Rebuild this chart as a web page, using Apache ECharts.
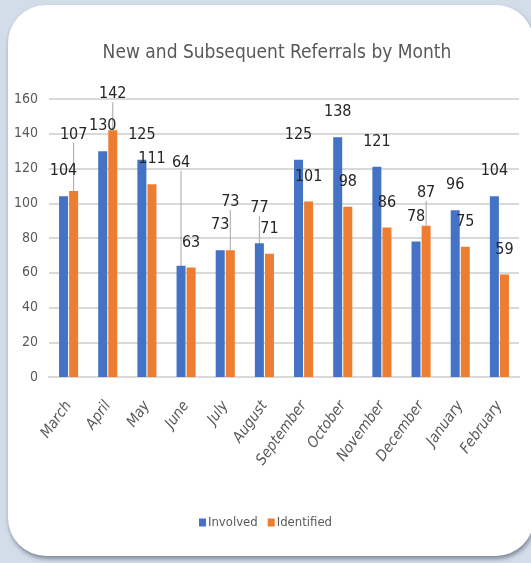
<!DOCTYPE html>
<html>
<head>
<meta charset="utf-8">
<script src="https://cdn.jsdelivr.net/npm/echarts@6/dist/echarts.min.js"></script>
<style>
  html, body { margin: 0; padding: 0; width: 531px; height: 563px; overflow: hidden; background: #d3dde9; }
  #panel {
    position: absolute; left: 8px; top: 5px; width: 526px; height: 551px;
    background: #ffffff; border-radius: 38px;
    box-shadow: 1px 3px 4px rgba(60, 70, 90, 0.55);
  }
  #chart { position: absolute; left: 0; top: 0; width: 531px; height: 563px; }
</style>
</head>
<body>
<div id="panel"></div>
<div id="chart"></div>
<script>
var months = ['March', 'April', 'May', 'June', 'July', 'August', 'September',
              'October', 'November', 'December', 'January', 'February'];
var involved   = [104, 130, 125, 64, 73, 77, 125, 138, 121, 78, 96, 104];
var identified = [107, 142, 111, 63, 73, 71, 101, 98, 86, 87, 75, 59];
var yTicks = [0, 20, 40, 60, 80, 100, 120, 140, 160];

// labels that Excel pushed up with a leader line: "series-dataIndex" -> extra dy
var labelNudge = {
    '0-3': -78, '0-5': -10,
    '1-0': -31, '1-1': -11, '1-4': -23, '1-9': -8
};

var font = "'Liberation Sans Narrow', 'DejaVu Sans Condensed', sans-serif";

var chart = echarts.init(document.getElementById('chart'));

function barSeries(idx, name, values, color) {
    var items = values.map(function (v, i) {
        if (labelNudge[idx + '-' + i]) {
            return { value: v, labelLine: { show: true } };
        }
        return v;
    });
    return {
        name: name,
        type: 'bar',
        data: items,
        barWidth: 9,
        barGap: '12%',
        itemStyle: { color: color },
        label: {
            show: true,
            position: 'top',
            distance: 17,
            fontFamily: font,
            fontSize: 16,
            color: '#262626'
        },
        labelLine: {
            show: false,
            lineStyle: { color: '#a6a6a6', width: 1 }
        },
        labelLayout: function (params) {
            var d = labelNudge[params.seriesIndex + '-' + params.dataIndex];
            if (d) {
                return { dy: d };
            }
            return {};
        }
    };
}

var option = {
    animation: false,
    title: {
        text: 'New and Subsequent Referrals by Month',
        left: 272,
        top: 39,
        textAlign: 'center',
        textStyle: { fontFamily: font, fontSize: 19, fontWeight: 'normal', color: '#595959' }
    },
    legend: {
        bottom: 29,
        left: 'center',
        itemWidth: 7,
        itemHeight: 8,
        itemGap: 10,
        icon: 'rect',
        textStyle: { fontFamily: font, fontSize: 13, color: '#595959', padding: [0, 0, 0, -3] },
        data: ['Involved', 'Identified']
    },
    grid: { left: 49, right: 12, top: 99, bottom: 186 },
    xAxis: {
        type: 'category',
        data: months,
        axisLine: { lineStyle: { color: '#d9d9d9', width: 2 } },
        axisTick: { show: false },
        axisLabel: {
            rotate: 54,
            interval: 0,
            margin: 26,
            fontFamily: font,
            fontStyle: 'italic',
            fontSize: 15,
            color: '#595959'
        }
    },
    yAxis: {
        type: 'value',
        min: yTicks[0],
        max: yTicks[yTicks.length - 1],
        interval: 20,
        axisLine: { show: false },
        axisTick: { show: false },
        splitLine: { lineStyle: { color: '#d9d9d9', width: 2 } },
        axisLabel: { fontFamily: font, fontSize: 14, color: '#595959', margin: 11 }
    },
    series: [
        barSeries(0, 'Involved', involved, '#4472c4'),
        barSeries(1, 'Identified', identified, '#ed7d31')
    ]
};

chart.setOption(option);
</script>
</body>
</html>
